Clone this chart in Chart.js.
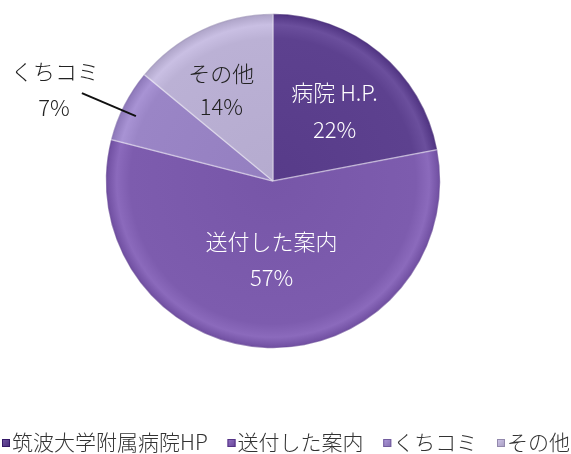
<!DOCTYPE html>
<html><head><meta charset="utf-8">
<script src="https://cdn.jsdelivr.net/npm/chart.js@4/dist/chart.umd.min.js"></script>
<style>html,body{margin:0;padding:0;background:#fff;overflow:hidden}</style>
</head><body>
<canvas id="c" width="571" height="454" style="display:block;width:571px;height:454px"></canvas>
<script>
// ---- data ----
const legendLabels = ['筑波大学附属病院HP', '送付した案内', 'くちコミ', 'その他'];
const sliceLabels = ['病院 H.P.', '送付した案内', 'くちコミ', 'その他'];
const values = [22, 57, 7, 14];
const colors = ['#5d418f', '#7d5cae', '#9a85c6', '#bbb1d5'];
const labelColors = ['#ffffff', '#ffffff', '#222222', '#222222'];

const FONT = '"Noto Sans CJK JP", "Noto Sans", sans-serif';

function shade(hex, amt) {
  const n = parseInt(hex.slice(1), 16);
  let r = (n >> 16) & 255, g = (n >> 8) & 255, b = n & 255;
  r = Math.max(0, Math.min(255, r + amt));
  g = Math.max(0, Math.min(255, g + amt));
  b = Math.max(0, Math.min(255, b + amt));
  return `rgb(${r},${g},${b})`;
}

// label placement config (radial fraction of radius, extra offsets)
const labelPlacement = [
  { f: 0.54, dx: 4, dy: 0, gap: 37 },
  { f: 0.47, dx: 1, dy: 0, gap: 36 },
  { outside: true },
  { f: 0.60, dx: -9, dy: 0, gap: 33 }
];

const sliceLabelPlugin = {
  id: 'sliceLabels',
  afterDatasetsDraw(chart) {
    const ctx = chart.ctx;
    const meta = chart.getDatasetMeta(0);
    ctx.save();
    ctx.font = `300 22px ${FONT}`;
    ctx.textAlign = 'center';
    ctx.textBaseline = 'middle';
    meta.data.forEach((arc, i) => {
      const p = arc.getProps(['x', 'y', 'startAngle', 'endAngle', 'outerRadius'], true);
      const mid = (p.startAngle + p.endAngle) / 2;
      const cos = Math.cos(mid), sin = Math.sin(mid);
      const cfg = labelPlacement[i];
      const pct = values[i] + '%';
      if (cfg.outside) {
        const ix = p.x + cos * p.outerRadius * 0.92;
        const iy = p.y + sin * p.outerRadius * 0.92 + 5;
        const ox = ix - 54, oy = iy - 23;
        ctx.strokeStyle = '#111';
        ctx.lineWidth = 2;
        ctx.beginPath();
        ctx.moveTo(ox, oy);
        ctx.lineTo(ix, iy);
        ctx.stroke();
        ctx.fillStyle = labelColors[i];
        ctx.fillText(sliceLabels[i], ox - 27, oy - 22);
        ctx.fillText(pct, ox - 28, oy + 14);
      } else {
        const cx = p.x + cos * p.outerRadius * cfg.f + cfg.dx;
        const cy = p.y + sin * p.outerRadius * cfg.f + cfg.dy;
        ctx.fillStyle = labelColors[i];
        ctx.fillText(sliceLabels[i], cx, cy - cfg.gap / 2);
        ctx.fillText(pct, cx, cy + cfg.gap / 2);
      }
    });
    ctx.restore();
  }
};

const legendPlugin = {
  id: 'bottomLegend',
  afterDraw(chart) {
    const ctx = chart.ctx;
    ctx.save();
    const fs = 21;
    ctx.font = `300 ${fs}px ${FONT}`;
    ctx.textBaseline = 'middle';
    ctx.textAlign = 'left';
    const boxW = 8, boxGap = 2;
    const widths = legendLabels.map(t => ctx.measureText(t).width);
    const used = widths.reduce((s, w) => s + boxW + boxGap + w, 0);
    const left = 2, right = chart.width - 1;
    const itemGap = Math.max(8, (right - left - used) / (legendLabels.length - 1));
    let x = left;
    const y = 442;
    legendLabels.forEach((t, i) => {
      const g = ctx.createLinearGradient(x, y - 4, x + boxW, y + 4);
      g.addColorStop(0, shade(colors[i], 25));
      g.addColorStop(1, shade(colors[i], -20));
      ctx.fillStyle = g;
      ctx.fillRect(x, y - 3, boxW, boxW);
      ctx.strokeStyle = shade(colors[i], -40);
      ctx.lineWidth = 1;
      ctx.strokeRect(x + 0.5, y - 2.5, boxW - 1, boxW - 1);
      ctx.fillStyle = '#333';
      ctx.fillText(t, x + boxW + boxGap, y);
      x += boxW + boxGap + widths[i] + itemGap;
    });
    ctx.restore();
  }
};

new Chart(document.getElementById('c'), {
  type: 'pie',
  data: {
    labels: legendLabels,
    datasets: [{
      data: values,
      backgroundColor: (c) => {
        const chart = c.chart, a = chart.chartArea;
        const base = colors[c.dataIndex];
        if (!a) return base;
        const cx = (a.left + a.right) / 2, cy = (a.top + a.bottom) / 2;
        const r = Math.min(a.right - a.left, a.bottom - a.top) / 2;
        const g = chart.ctx.createRadialGradient(cx, cy, 0, cx, cy, r);
        g.addColorStop(0, shade(base, -6));
        g.addColorStop(0.85, base);
        g.addColorStop(0.93, shade(base, 14));
        g.addColorStop(0.985, shade(base, -10));
        g.addColorStop(1, shade(base, -45));
        return g;
      },
      borderColor: 'rgba(255,255,255,0.35)',
      borderWidth: 1.5
    }]
  },
  options: {
    responsive: false,
    animation: false,
    devicePixelRatio: 1,
    rotation: 0,
    layout: { padding: { left: 0, right: 25, top: 13, bottom: 105 } },
    plugins: {
      legend: { display: false },
      tooltip: { enabled: false }
    }
  },
  plugins: [sliceLabelPlugin, legendPlugin]
});
</script>
</body></html>
